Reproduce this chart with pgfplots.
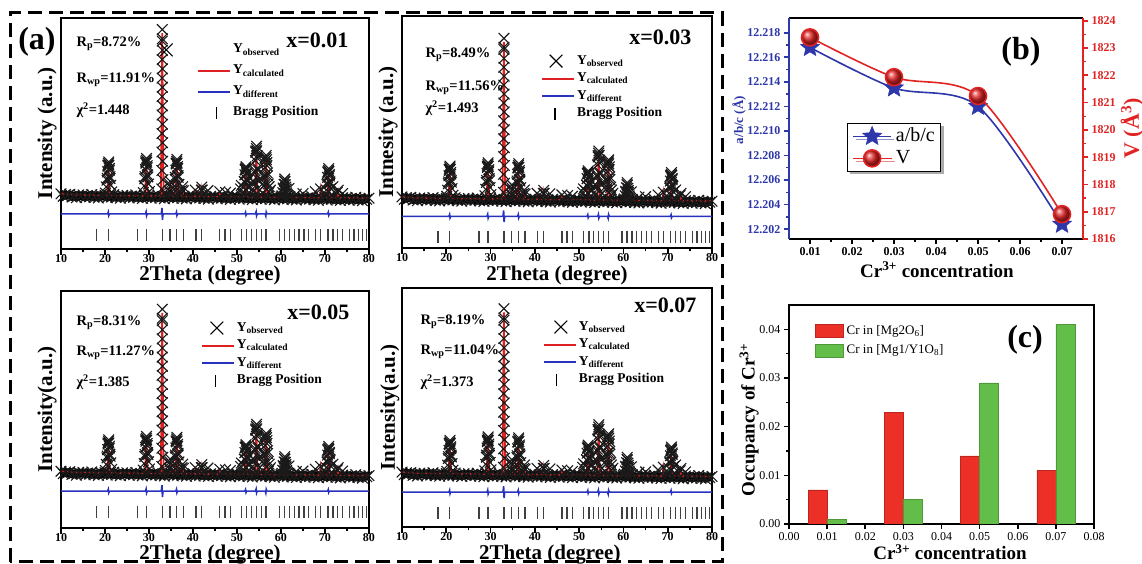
\documentclass[border=0pt]{standalone}
\usepackage{fontspec}
\setmainfont{Liberation Serif}
\usepackage{pgfplots}
\usepackage{pgfplotstable}
\pgfplotsset{compat=1.18}
\usetikzlibrary{plotmarks,shadows}

\definecolor{xred}{RGB}{222,32,32}
\definecolor{xblue}{RGB}{40,50,190}
\definecolor{bblue}{RGB}{45,55,170}
\definecolor{bred}{RGB}{225,35,35}
\definecolor{cred}{RGB}{236,48,40}
\definecolor{cgreen}{RGB}{98,190,72}

\pgfdeclareplotmark{fstar}{%
  \pgfpathmoveto{\pgfpointpolar{90}{\pgfplotmarksize}}%
  \pgfpathlineto{\pgfpointpolar{126}{0.45\pgfplotmarksize}}%
  \pgfpathlineto{\pgfpointpolar{162}{\pgfplotmarksize}}%
  \pgfpathlineto{\pgfpointpolar{198}{0.45\pgfplotmarksize}}%
  \pgfpathlineto{\pgfpointpolar{234}{\pgfplotmarksize}}%
  \pgfpathlineto{\pgfpointpolar{270}{0.45\pgfplotmarksize}}%
  \pgfpathlineto{\pgfpointpolar{306}{\pgfplotmarksize}}%
  \pgfpathlineto{\pgfpointpolar{342}{0.45\pgfplotmarksize}}%
  \pgfpathlineto{\pgfpointpolar{18}{\pgfplotmarksize}}%
  \pgfpathlineto{\pgfpointpolar{54}{0.45\pgfplotmarksize}}%
  \pgfpathclose
  \pgfusepathqfillstroke}

% observed XRD points: background
\pgfplotstableread[row sep=\\]{
x y\\
10 23.9\\ 10.5 22.8\\ 11 23.6\\ 11.5 23.1\\ 12 23.7\\ 12.5 22.5\\ 13 23.0\\ 13.5 22.2\\ 14 23.4\\ 14.5 22.8\\
15 23.4\\ 15.5 22.3\\ 16 23.1\\ 16.5 22.6\\ 17 23.6\\ 17.5 22.4\\ 18 22.9\\ 18.5 22.1\\ 19 23.3\\ 19.5 22.7\\
20 23.3\\ 20.5 22.2\\ 21 23.0\\ 21.5 22.5\\ 22 23.5\\ 22.5 22.3\\ 23 22.8\\ 23.5 22.0\\ 24 23.2\\ 24.5 22.6\\
25 23.2\\ 25.5 22.1\\ 26 22.9\\ 26.5 22.4\\ 27 23.4\\ 27.5 22.2\\ 28 22.7\\ 28.5 21.9\\ 29 23.1\\ 29.5 22.5\\
30 23.1\\ 30.5 22.0\\ 31 22.8\\ 31.5 22.3\\ 32 23.3\\ 32.5 22.1\\ 33 22.6\\ 33.5 21.8\\ 34 23.0\\ 34.5 22.4\\
35 23.0\\ 35.5 21.9\\ 36 22.7\\ 36.5 22.2\\ 37 23.2\\ 37.5 22.0\\ 38 22.5\\ 38.5 21.7\\ 39 22.9\\ 39.5 22.3\\
40 22.9\\ 40.5 21.8\\ 41 22.6\\ 41.5 22.1\\ 42 23.1\\ 42.5 21.9\\ 43 22.4\\ 43.5 21.6\\ 44 22.8\\ 44.5 22.2\\
45 22.8\\ 45.5 21.7\\ 46 22.5\\ 46.5 22.0\\ 47 23.0\\ 47.5 21.8\\ 48 22.3\\ 48.5 21.5\\ 49 22.7\\ 49.5 22.1\\
50 22.7\\ 50.5 21.6\\ 51 22.4\\ 51.5 21.9\\ 52 22.9\\ 52.5 21.7\\ 53 22.2\\ 53.5 21.4\\ 54 22.6\\ 54.5 22.0\\
55 22.6\\ 55.5 21.5\\ 56 22.3\\ 56.5 21.8\\ 57 22.8\\ 57.5 21.6\\ 58 22.1\\ 58.5 21.3\\ 59 22.5\\ 59.5 21.9\\
60 22.5\\ 60.5 21.4\\ 61 22.2\\ 61.5 21.7\\ 62 22.7\\ 62.5 21.5\\ 63 22.0\\ 63.5 21.2\\ 64 22.4\\ 64.5 21.8\\
65 22.4\\ 65.5 21.3\\ 66 22.1\\ 66.5 21.6\\ 67 22.6\\ 67.5 21.4\\ 68 21.9\\ 68.5 21.1\\ 69 22.3\\ 69.5 21.7\\
70 22.3\\ 70.5 21.2\\ 71 22.0\\ 71.5 21.5\\ 72 22.5\\ 72.5 21.3\\ 73 21.8\\ 73.5 21.0\\ 74 22.2\\ 74.5 21.6\\
75 22.2\\ 75.5 21.1\\ 76 21.9\\ 76.5 21.4\\ 77 22.4\\ 77.5 21.2\\ 78 21.7\\ 78.5 20.9\\ 79 22.1\\ 79.5 21.5\\ 80 22.0\\
}\obsbase

% observed XRD points: reflections
\pgfplotstableread[row sep=\\]{
x y\\
20.1 24.2\\ 20.3 26.9\\ 20.45 29.8\\ 20.6 33.4\\ 20.7 35.8\\ 20.8 37.0\\ 20.85 37.7\\ 20.9 36.3\\ 21.0 34.1\\ 21.15 30.5\\ 21.3 27.6\\ 21.5 24.7\\
20.5 30.6\\ 21.1 31.3\\ 20.65 36.3\\ 21.0 34.9\\
28.7 24.4\\ 28.9 27.3\\ 29.05 30.4\\ 29.2 34.4\\ 29.3 37.1\\ 29.4 38.4\\ 29.45 39.2\\ 29.5 37.6\\ 29.6 35.2\\ 29.75 31.2\\ 29.9 28.1\\ 30.1 24.9\\
29.1 31.3\\ 29.7 32.1\\ 29.25 37.7\\ 29.6 36.1\\
32.9 26\\ 32.92 34\\ 32.94 42\\ 32.96 50\\ 32.97 58\\ 32.98 66\\ 32.99 74\\ 33.0 82\\ 33.01 90\\ 33.02 95\\
33.03 91\\ 33.04 86\\ 33.05 78\\ 33.06 70\\ 33.07 62\\ 33.08 54\\ 33.1 46\\ 33.12 38\\ 33.15 30\\
34.6 25.0\\ 34.75 28.0\\ 34.8 29.3\\ 34.9 27.0\\ 35.0 24.5\\
35.6 24.3\\ 35.8 27.2\\ 35.95 30.2\\ 36.1 34.1\\ 36.2 36.8\\ 36.3 38.0\\ 36.35 38.8\\ 36.4 37.2\\ 36.5 34.9\\ 36.65 31.0\\ 36.8 28.0\\ 37.0 24.8\\
36.0 31.0\\ 36.6 31.8\\ 36.15 37.2\\ 36.5 35.7\\
37.5 25.5\\ 37.65 27.0\\ 37.8 25.2\\
40.5 25.5\\ 41.9 25.5\\ 42.0 26.8\\ 42.1 25.5\\ 43.4 25.3\\ 46.1 24.8\\ 47.4 24.5\\ 48.5 24.2\\
50.8 26.0\\ 51.0 27.5\\ 51.3 24.0\\ 51.5 26.6\\ 51.65 29.2\\ 51.8 32.1\\ 51.9 34.2\\ 52.0 35.0\\ 52.05 35.6\\ 52.1 34.4\\ 52.2 32.5\\ 52.35 29.4\\ 52.5 26.8\\ 52.7 24.4\\
51.7 29.2\\ 52.3 29.9\\ 51.85 34.4\\ 52.2 33.1\\
53.0 27.0\\ 53.3 28.5\\ 53.6 29.5\\
53.7 25.0\\ 53.9 28.8\\ 54.05 33.0\\ 54.2 38.3\\ 54.3 41.8\\ 54.4 43.5\\ 54.45 44.5\\ 54.5 42.5\\ 54.6 39.3\\ 54.75 34.1\\ 54.9 29.9\\ 55.1 25.6\\
54.1 33.9\\ 54.7 34.9\\ 54.25 42.4\\ 54.6 40.3\\
55.4 30.0\\ 55.7 28.0\\
55.9 24.2\\ 56.1 27.3\\ 56.25 30.9\\ 56.4 35.2\\ 56.5 38.2\\ 56.6 39.6\\ 56.65 40.5\\ 56.7 38.7\\ 56.8 36.1\\ 56.95 31.7\\ 57.1 28.2\\ 57.3 24.7\\
56.3 32.0\\ 56.9 32.9\\ 56.45 39.2\\ 56.8 37.4\\
57.3 27.0\\ 57.6 25.5\\
60.2 23.0\\ 60.4 24.4\\ 60.55 26.0\\ 60.7 28.0\\ 60.8 29.4\\ 60.85 30.3\\ 60.9 29.2\\ 61.0 27.8\\ 61.15 25.9\\ 61.3 24.3\\ 61.5 23.2\\ 61.8 26.2\\
60.5 26.4\\ 61.1 26.8\\
63.5 23.8\\ 65.0 24.0\\ 67.8 24.8\\ 69.0 26.0\\
70.1 23.3\\ 70.3 25.5\\ 70.45 27.9\\ 70.6 31.0\\ 70.7 33.0\\ 70.8 34.0\\ 70.85 34.8\\ 70.9 33.6\\ 71.0 31.6\\ 71.15 28.6\\ 71.3 26.2\\ 71.5 23.6\\ 71.8 27.0\\
70.5 28.5\\ 71.1 29.1\\ 70.65 33.4\\ 71.0 32.2\\
72.8 24.5\\ 73.0 25.5\\ 74.0 24.0\\
}\obspeak

% calculated profile
\pgfplotstableread[row sep=\\]{
x y\\
10 24.0\\ 12 23.6\\ 15 23.4\\ 20.5 23.2\\ 20.8 35.0\\ 21.1 23.2\\ 29.1 22.9\\ 29.4 37.4\\ 29.7 22.9\\
32.7 22.9\\ 33.0 93.4\\ 33.3 22.9\\ 34.55 22.8\\ 34.8 28.0\\ 35.05 22.8\\ 36.0 22.8\\ 36.3 37.0\\ 36.6 22.8\\
37.35 22.8\\ 37.6 25.5\\ 37.85 22.8\\ 40.3 22.7\\ 40.5 24.5\\ 40.7 22.7\\ 41.75 22.7\\ 42.0 26.0\\ 42.25 22.7\\
45.9 22.6\\ 46.1 24.0\\ 46.3 22.6\\ 51.7 22.5\\ 52.0 33.5\\ 52.3 22.5\\ 54.1 22.45\\ 54.4 42.1\\ 54.7 22.4\\
56.3 22.4\\ 56.6 38.2\\ 56.9 22.4\\ 60.5 22.3\\ 60.8 28.7\\ 61.1 22.3\\ 68.8 22.2\\ 69.0 25.5\\ 69.2 22.2\\
70.5 22.2\\ 70.8 32.8\\ 71.1 22.2\\ 72.8 22.15\\ 73.0 24.5\\ 73.2 22.15\\ 80 22.0\\
}\calcdat

% difference curve
\pgfplotstableread[row sep=\\]{
x y\\
10 15.2\\ 20.6 15.2\\ 20.75 16.0\\ 20.85 14.5\\ 21.0 15.2\\ 29.2 15.2\\ 29.35 16.1\\ 29.45 14.4\\ 29.6 15.2\\
32.8 15.2\\ 32.95 17.8\\ 33.05 12.6\\ 33.2 15.2\\ 36.1 15.2\\ 36.25 16.0\\ 36.35 14.5\\ 36.5 15.2\\
51.8 15.2\\ 51.95 15.9\\ 52.05 14.6\\ 52.2 15.2\\ 54.2 15.2\\ 54.35 16.1\\ 54.45 14.4\\ 54.6 15.2\\
56.4 15.2\\ 56.55 14.3\\ 56.65 16.0\\ 56.8 15.2\\ 70.6 15.2\\ 70.75 15.9\\ 70.85 14.6\\ 71.0 15.2\\ 80 15.2\\
}\diffdat

% Bragg positions
\pgfplotstableread[row sep=\\]{
x y\\
18.1 6.1\\ 20.75 6.1\\ 27.4 6.1\\ 29.45 6.1\\ 33.0 6.1\\ 34.75 6.1\\ 36.3 6.1\\ 37.8 6.1\\ 40.66 6.1\\ 41.95 6.1\\
46.1 6.1\\ 47.25 6.1\\ 48.5 6.1\\ 51.0 6.1\\ 52.2 6.1\\ 53.3 6.1\\ 54.4 6.1\\ 55.5 6.1\\ 56.6 6.1\\
59.7 6.1\\ 60.8 6.1\\ 61.9 6.1\\ 63.0 6.1\\ 64.1 6.1\\ 65.2 6.1\\ 66.3 6.1\\ 67.9 6.1\\ 69.0 6.1\\
70.7 6.1\\ 71.8 6.1\\ 72.9 6.1\\ 74.0 6.1\\ 75.6 6.1\\ 76.6 6.1\\ 77.6 6.1\\ 78.6 6.1\\ 79.5 6.1\\
}\braggdat

\newcommand{\bfs}[1]{\fontsize{#1}{#1}\selectfont\bfseries}

\pgfplotsset{
  xrd/.style={
    anchor=south west, scale only axis,
    xmin=10, xmax=80, ymin=0, ymax=100,
    xtick={10,20,30,40,50,60,70,80}, minor x tick num=1,
    ytick=\empty, xtick pos=left, tick align=outside,
    major tick length=6pt, minor tick length=3.5pt,
    every major tick/.append style={line width=1.6pt, black},
    every minor tick/.append style={line width=1.4pt, black},
    axis line style={line width=2.5pt, black},
    tick label style={font=\bfs{12}},
    xticklabel style={inner sep=1pt, yshift=1.5pt},
    /pgf/number format/assume math mode=true,
    label style={font=\bfs{21}},
    xlabel={2Theta (degree)},
    legend cell align=left,
    legend style={draw=none, fill=none, inner sep=0pt, outer sep=0pt, column sep=0pt,
      nodes={inner sep=1pt, text height=9pt, text depth=3pt, font=\bfs{13.5}}, anchor=north west},
  },
  obsline/.style={black, line width=8pt, line join=round},
  obs/.style={only marks, mark=x, mark size=7.5pt, line width=1.1pt, black!90},
  calc/.style={xred, line width=1.8pt},
  diff/.style={xblue, line width=1.6pt},
  bragg/.style={only marks, mark=|, mark size=6pt, line width=1.3pt, black!75},
  legcross/.style={legend image code/.code={\path[draw=none,fill=none] (-34pt,0pt) -- (34pt,0pt); \draw[##1] plot coordinates {(#1,0pt)};}},
  legline/.style={legend image code/.code={\path[draw=none,fill=none] (-34pt,0pt) -- (34pt,0pt); \draw[##1] (0pt,0pt) -- (32pt,0pt);}},
  legbragg/.style={legend image code/.code={\path[draw=none,fill=none] (-34pt,0pt) -- (34pt,0pt); \draw[##1] (#1,-6pt) -- (#1,6pt);}},
  legbar/.style={legend image code/.code={\draw[##1] (0pt,-6pt) rectangle (28pt,7pt);}},
  legmark/.style={legend image code/.code={\draw[mark repeat=2,mark phase=2,##1] plot coordinates {(0pt,0pt)(19pt,0pt)(38pt,0pt)};}},
}

\newcommand{\xrdlegend}[2]{%
  \addlegendimage{only marks, mark=x, mark size=9pt, black, line width=1.1pt, legcross=#1}
  \addlegendentry{Y\textsubscript{observed}}
  \addlegendimage{xred, line width=2pt, legline}
  \addlegendentry{Y\textsubscript{calculated}}
  \addlegendimage{xblue, line width=2pt, legline}
  \addlegendentry{Y\textsubscript{different}}
  \addlegendimage{black, line width=1.2pt, legbragg=#2}
  \addlegendentry{Bragg Position}
  \addplot[obsline] table {\obsbase};
  \addplot[obs] table {\obsbase};
  \addplot[obs] table {\obspeak};
  \addplot[calc] table {\calcdat};
  \addplot[diff] table {\diffdat};
  \addplot[bragg] table {\braggdat};
}

\begin{document}
\begin{tikzpicture}[x=1pt,y=1pt]
\path[use as bounding box] (0,0) rectangle (1142,564);
\draw[line width=3pt, dash pattern=on 14pt off 7pt] (10,2) rectangle (722,551);

% ---- (a) x=0.01
\begin{axis}[xrd, at={(61pt,315pt)}, width=308pt, height=231pt,
  ylabel={Intensity (a.u.)},
  xlabel style={at={(axis description cs:0.484,-0.136)}, anchor=base},
  ylabel style={at={(axis description cs:-0.045,0.5)}, anchor=center},
  legend style={at={(axis description cs:0.321,0.892)}, row sep=7pt}]
\xrdlegend{-32pt}{18pt}
\end{axis}

% ---- x=0.03
\begin{axis}[xrd, at={(402pt,316pt)}, width=310pt, height=232pt, ymin=1, ymax=105,
  ylabel={Intnesity (a.u.)},
  xlabel style={at={(axis description cs:0.5,-0.14)}, anchor=base},
  ylabel style={at={(axis description cs:-0.045,0.5)}, anchor=center},
  legend style={at={(axis description cs:0.342,0.836)}, row sep=3.5pt}]
\xrdlegend{14pt}{13pt}
\end{axis}

% ---- x=0.05
\begin{axis}[xrd, at={(61pt,36pt)}, width=308pt, height=237pt, ymin=-1, ymax=103,
  ylabel={Intensity(a.u.)},
  xlabel style={at={(axis description cs:0.484,-0.131)}, anchor=base},
  ylabel style={at={(axis description cs:-0.045,0.5)}, anchor=center},
  legend style={at={(axis description cs:0.347,0.873)}, row sep=3.5pt}]
\xrdlegend{15pt}{14pt}
\end{axis}

% ---- x=0.07
\begin{axis}[xrd, at={(402pt,37pt)}, width=310pt, height=239pt, ymin=0, ymax=104,
  ylabel={Intensity(a.u.)},
  xlabel style={at={(axis description cs:0.477,-0.134)}, anchor=base},
  ylabel style={at={(axis description cs:-0.039,0.5)}, anchor=center},
  legend style={at={(axis description cs:0.348,0.866)}, row sep=3.5pt}]
\xrdlegend{17pt}{13pt}
\end{axis}

% texts in XRD panels
\begin{scope}[every node/.style={anchor=west, font=\bfs{14.5}}]
\node at (73,520) {R\textsubscript{p}=8.72\%};
\node at (73,484) {R\textsubscript{wp}=11.91\%};
\node at (73,454) {χ\textsuperscript{2}=1.448};
\node at (422,509) {R\textsubscript{p}=8.49\%};
\node at (422,476) {R\textsubscript{wp}=11.56\%};
\node at (422,456) {χ\textsuperscript{2}=1.493};
\node at (73,241) {R\textsubscript{p}=8.31\%};
\node at (73,211) {R\textsubscript{wp}=11.27\%};
\node at (73,182) {χ\textsuperscript{2}=1.385};
\node at (417,242) {R\textsubscript{p}=8.19\%};
\node at (417,212) {R\textsubscript{wp}=11.04\%};
\node at (417,182) {χ\textsuperscript{2}=1.373};
\end{scope}
\begin{scope}[every node/.style={anchor=east, font=\bfs{22}}]
\node at (352,524) {x=0.01};
\node at (695,527) {x=0.03};
\node at (353,252) {x=0.05};
\node at (700,259) {x=0.07};
\end{scope}
\node[font=\bfs{32}] at (37,522) {(a)};

% ---- (b) lattice parameter, blue data + x axis
\begin{axis}[at={(789pt,325pt)}, anchor=south west, scale only axis, width=294pt, height=221pt,
  xmin=0.005, xmax=0.075, ymin=12.2012, ymax=12.2192,
  axis x line*=box, axis y line=none, ytick=\empty,
  xtick={0.01,0.02,0.03,0.04,0.05,0.06,0.07}, minor x tick num=1,
  xtick pos=left, tick align=outside,
  major tick length=5pt, minor tick length=3pt,
  every major tick/.append style={line width=1.6pt, black},
  every minor tick/.append style={line width=1.4pt, black},
  axis line style={line width=2.5pt, black},
  scaled ticks=false,
  xticklabel style={font=\bfs{12}, /pgf/number format/.cd, fixed, fixed zerofill, precision=2, assume math mode=true},
  xlabel={Cr\textsuperscript{3+} concentration},
  xlabel style={font=\bfs{19}, at={(axis description cs:0.503,-0.172)}, anchor=base}]
\addplot[bblue, line width=1.6pt, smooth, mark=fstar, mark size=10pt, mark options={fill=bblue, draw=bblue, line width=0.5pt}]
  coordinates {(0.01,12.2168)(0.03,12.2135)(0.05,12.2120)(0.07,12.2024)};
\end{axis}

% (b) left y axis
\begin{axis}[at={(789pt,325pt)}, anchor=south west, scale only axis, width=294pt, height=221pt,
  xmin=0.005, xmax=0.075, ymin=12.2012, ymax=12.2192,
  axis x line=none, xtick=\empty, axis y line*=left,
  ytick={12.202,12.204,12.206,12.208,12.21,12.212,12.214,12.216,12.218}, minor y tick num=1,
  ytick pos=left, tick align=outside,
  major tick length=5pt, minor tick length=3pt,
  every major tick/.append style={line width=1.6pt, bblue},
  every minor tick/.append style={line width=1.4pt, bblue},
  axis line style={line width=2.5pt, bblue},
  scaled ticks=false,
  yticklabel style={bblue, font=\bfs{12}, /pgf/number format/.cd, fixed, fixed zerofill, precision=3, assume math mode=true},
  ylabel={a/b/c (Å)},
  ylabel style={bblue, font=\bfs{13}, at={(axis description cs:-0.17,0.538)}, anchor=center}]
\end{axis}

% (b) right y axis with V
\begin{axis}[at={(789pt,325pt)}, anchor=south west, scale only axis, width=294pt, height=221pt,
  xmin=0.005, xmax=0.075, ymin=1816, ymax=1824.1,
  axis x line=none, xtick=\empty, axis y line*=right,
  ytick={1816,1817,1818,1819,1820,1821,1822,1823,1824}, minor y tick num=1,
  ytick pos=right, tick align=outside,
  major tick length=5pt, minor tick length=3pt,
  every major tick/.append style={line width=1.6pt, bred},
  every minor tick/.append style={line width=1.4pt, bred},
  axis line style={line width=2.5pt, bred},
  scaled ticks=false,
  yticklabel style={bred, font=\bfs{12}, /pgf/number format/.cd, fixed, 1000 sep={}, assume math mode=true},
  ylabel={V (Å\textsuperscript{3})},
  ylabel style={bred, font=\bfs{22}, at={(axis description cs:1.167,0.5)}, anchor=center},
  legmark,
  legend cell align=left,
  legend style={at={(axis description cs:0.197,0.525)}, anchor=north west, draw=black, line width=0.8pt, fill=white,
    font=\fontsize{20}{20}\selectfont, inner xsep=5pt, inner ysep=3pt, row sep=2pt, column sep=3pt,
    nodes={inner sep=1pt, text height=14pt, text depth=4pt},
    drop shadow={shadow xshift=3pt, shadow yshift=-3pt, fill=black!65}}]
\addlegendimage{bblue, line width=1.6pt, mark=fstar, mark size=10pt, mark options={fill=bblue, draw=bblue, line width=0.5pt}}
\addlegendentry{a/b/c}
\addplot[bred, line width=1.6pt, smooth, mark=ball, mark size=8.5pt, mark options={ball color=bred}]
  coordinates {(0.01,1823.39)(0.03,1821.93)(0.05,1821.24)(0.07,1816.91)};
\addlegendentry{V}
\end{axis}
\node[font=\bfs{32}] at (1021,512) {(b)};

% ---- (c) occupancy bars
\begin{axis}[at={(789pt,40pt)}, anchor=south west, scale only axis, width=305pt, height=219pt,
  xmin=0, xmax=0.08, ymin=0, ymax=0.045,
  xtick={0,0.01,0.02,0.03,0.04,0.05,0.06,0.07,0.08},
  ytick={0,0.01,0.02,0.03,0.04}, minor y tick num=1,
  xtick pos=left, ytick pos=left, tick align=outside,
  major tick length=5pt, minor tick length=3pt,
  every major tick/.append style={line width=1.6pt, black},
  every minor tick/.append style={line width=1.4pt, black},
  axis line style={line width=2.5pt, black},
  scaled ticks=false,
  tick label style={font=\fontsize{12}{12}\selectfont, /pgf/number format/.cd, fixed, fixed zerofill, precision=2, assume math mode=true},
  xlabel={Cr\textsuperscript{3+} concentration},
  ylabel={Occupancy of Cr\textsuperscript{3+}},
  label style={font=\bfs{19}},
  xlabel style={at={(axis description cs:0.528,-0.164)}, anchor=base},
  ylabel style={at={(axis description cs:-0.131,0.475)}, anchor=center},
  legend cell align=left,
  legend style={at={(axis description cs:0.085,0.913)}, anchor=north west, draw=none, fill=none,
    font=\fontsize{13}{13}\selectfont, inner sep=0pt, row sep=5pt, column sep=2pt,
    nodes={inner sep=1pt, text height=9pt, text depth=3pt}}]
\addplot[ybar, bar width=0.005, bar shift=0pt, fill=cred, draw=cred!80!black, line width=0.6pt, legbar]
  coordinates {(0.0075,0.007)(0.0275,0.023)(0.0475,0.014)(0.0675,0.011)};
\addlegendentry{Cr in [Mg2O\textsubscript{6}]}
\addplot[ybar, bar width=0.005, bar shift=0pt, fill=cgreen, draw=cgreen!80!black, line width=0.6pt, legbar]
  coordinates {(0.0125,0.001)(0.0325,0.005)(0.0525,0.029)(0.0725,0.041)};
\addlegendentry{Cr in [Mg1/Y1O\textsubscript{8}]}
\end{axis}
\node[font=\bfs{32}] at (1025,224) {(c)};
\end{tikzpicture}
\end{document}
